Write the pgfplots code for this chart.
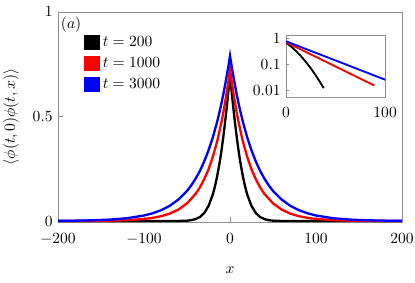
\documentclass[border=0pt]{standalone}
\usepackage{pgfplots}
\pgfplotsset{compat=1.18}
\usepackage{pgfplotstable}

\pgfplotstableread{
x y
-200 0
-80 0
-60 0.00026
-50 0.0017
-45 0.0041
-40 0.0092
-35 0.0193
-30 0.0384
-25 0.0720
-20 0.127
-17.5 0.166
-15 0.213
-12 0.281
-10 0.335
-8 0.396
-6 0.463
-4 0.536
-2 0.615
0 0.70
2 0.615
4 0.536
6 0.463
8 0.396
10 0.335
12 0.281
15 0.213
17.5 0.166
20 0.127
25 0.0720
30 0.0384
35 0.0193
40 0.0092
45 0.0041
50 0.0017
60 0.00026
80 0
200 0
}\tblack

\pgfplotstableread{
x y
-200 0.00013
-180 0.00032
-160 0.00075
-140 0.00176
-120 0.00416
-100 0.00983
-90 0.0151
-80 0.0232
-70 0.0357
-60 0.0549
-50 0.0845
-40 0.130
-35 0.161
-30 0.200
-25 0.247
-20 0.307
-15 0.380
-10 0.472
-7.5 0.525
-5 0.585
-2 0.665
0 0.725
2 0.665
5 0.585
7.5 0.525
10 0.472
15 0.380
20 0.307
25 0.247
30 0.200
35 0.161
40 0.130
50 0.0845
60 0.0549
70 0.0357
80 0.0232
90 0.0151
100 0.00983
120 0.00416
140 0.00176
160 0.00075
180 0.00032
200 0.00013
}\tred

\pgfplotstableread{
x y
-200 0.00088
-180 0.00174
-160 0.00343
-140 0.00677
-120 0.0134
-100 0.0264
-90 0.0370
-80 0.0521
-70 0.0731
-60 0.103
-50 0.144
-45 0.171
-40 0.203
-35 0.240
-30 0.285
-25 0.338
-20 0.400
-15 0.474
-12.5 0.516
-10 0.562
-7.5 0.612
-5 0.667
-2 0.738
0 0.790
2 0.738
5 0.667
7.5 0.612
10 0.562
12.5 0.516
15 0.474
20 0.400
25 0.338
30 0.285
35 0.240
40 0.203
45 0.171
50 0.144
60 0.103
70 0.0731
80 0.0521
90 0.0370
100 0.0264
120 0.0134
140 0.00677
160 0.00343
180 0.00174
200 0.00088
}\tblue

\pgfplotstableread{
x y
0 0.70
5 0.499
10 0.335
15 0.213
20 0.127
25 0.0720
30 0.0384
35 0.0193
38 0.0124
}\iblack

\pgfplotstableread{
x y
0 0.725
10 0.472
20 0.307
30 0.200
40 0.130
50 0.0845
60 0.0549
70 0.0357
80 0.0232
89 0.0158
}\ired

\pgfplotstableread{
x y
0 0.790
10 0.562
20 0.400
30 0.285
40 0.203
50 0.144
60 0.103
70 0.0731
80 0.0521
90 0.0370
100 0.0264
}\iblue

\begin{document}
\begin{tikzpicture}
\begin{axis}[
  name=main,
  scale only axis,
  width=221.5pt, height=135.2pt,
  xmin=-200, xmax=200, ymin=-0.004, ymax=1,
  xtick={-200,-100,0,100,200},
  ytick={0,0.5,1},
  tick pos=left,
  tick align=inside,
  major tick length=3pt,
  axis line style={black!45},
  tick style={black!45},
  xticklabel style={yshift=-4pt},
  clip=false,
  xlabel={$x$},
  ylabel={$\langle \phi(t,0)\phi(t,x)\rangle$},
  xlabel style={at={(axis description cs:0.5,-0.229)}, anchor=center},
  ylabel style={at={(axis description cs:-0.137,0.5)}, anchor=center},
  legend image code/.code={\fill[#1] (0pt,-4.2pt) rectangle (8.4pt,4.2pt);},
  legend style={draw=none, fill=none, at={(rel axis cs:0.062,0.915)}, anchor=north west, row sep=1.5pt},
  legend cell align=left,
]
\addplot[black, line width=1.5pt] table {\tblack};
\addlegendentry{$t=200$}
\addplot[red, line width=1.5pt] table {\tred};
\addlegendentry{$t=1000$}
\addplot[blue, line width=1.5pt] table {\tblue};
\addlegendentry{$t=3000$}
\node at (rel axis cs:0.038,0.938) {$(a)$};
\coordinate (insetpos) at (rel axis cs:0.663,0.595);
\end{axis}
\begin{axis}[
  at={(insetpos)}, anchor=south west,
  scale only axis,
  width=63.8pt, height=39.7pt,
  ymode=log,
  xmin=0, xmax=100, ymin=0.0057, ymax=1.34,
  xtick={0,100},
  ytick={0.01,0.1,1},
  yticklabels={$0.01$,$0.1$,$1$},
  yminorticks=false,
  tick pos=left,
  tick align=inside,
  major tick length=2pt,
  axis line style={black!45},
  tick style={black!45},
  xticklabel style={yshift=-3pt},
]
\addplot[black, line width=1.2pt] table {\iblack};
\addplot[red, line width=1.2pt] table {\ired};
\addplot[blue, line width=1.2pt] table {\iblue};
\end{axis}
\pgfresetboundingbox
\path[use as bounding box] ([xshift=-37.4pt,yshift=-39.3pt]main.south west) rectangle ([xshift=8.4pt,yshift=7.7pt]main.north east);
\end{tikzpicture}
\end{document}
